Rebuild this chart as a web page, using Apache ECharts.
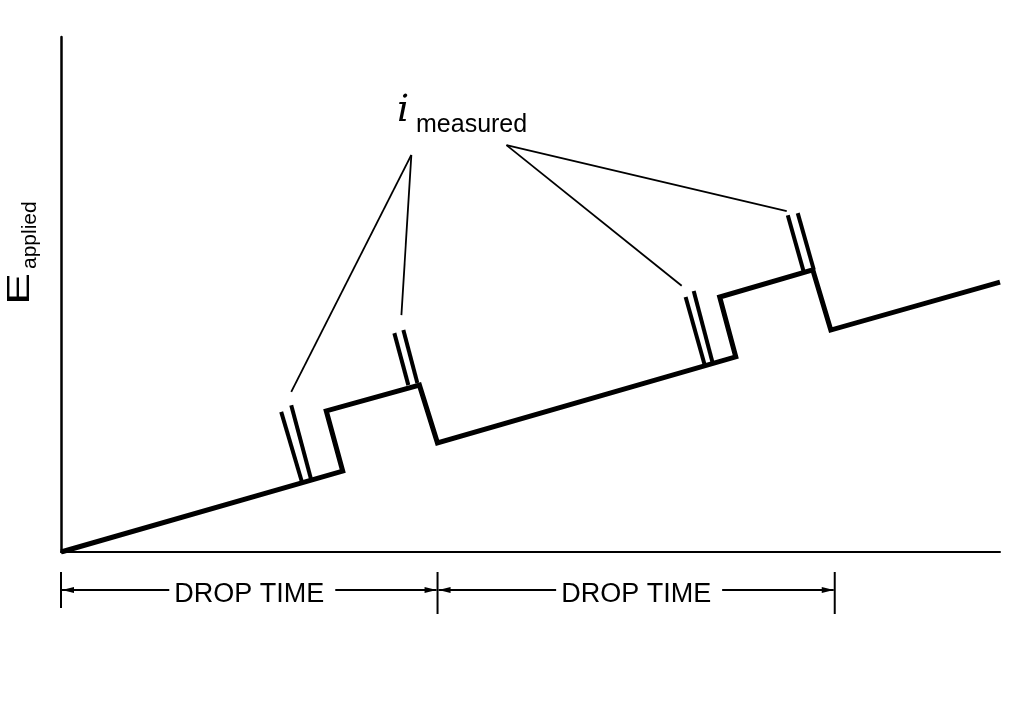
<!DOCTYPE html>
<html>
<head>
<meta charset="utf-8">
<script src="https://cdn.jsdelivr.net/npm/echarts@6/dist/echarts.min.js"></script>
<style>
  html, body { margin: 0; padding: 0; background: #fff; }
  #main { width: 1025px; height: 720px; }
</style>
</head>
<body>
<div id="main"></div>
<script>
// staircase applied potential, time 0..100 vs E 0..100 (arbitrary units)
var waveT = [0, 30.0, 28.25, 38.17, 40.09, 71.86, 70.15, 80.06, 81.98, 100];
var waveE = [0, 15.7, 27.4, 32.4, 21.2, 37.9, 49.5, 54.8, 43.1, 52.4];

// double strokes where the current is sampled: [t0, E0, t1, E1]
var marks = [
  [23.45, 27.2, 25.69, 13.4],
  [24.52, 28.5, 26.65, 14.0],
  [35.50, 42.5, 36.99, 32.4],
  [36.46, 43.1, 37.95, 32.8],
  [66.52, 49.5, 68.55, 36.3],
  [67.38, 50.7, 69.40, 36.7],
  [77.40, 65.4, 79.10, 54.4],
  [78.46, 65.8, 80.17, 54.8]
];

// leader lines from the "i measured" label
var leaders = [
  [37.31, 77.1, 24.52, 31.1],
  [37.31, 77.1, 36.25, 46.0],
  [47.44, 79.0, 66.10, 51.7],
  [47.44, 79.0, 77.29, 66.2]
];

// drop boundaries along the time axis
var dropTimes = [0, 40.1, 82.4];
var dropLabel = 'DROP TIME';

var chart = echarts.init(document.getElementById('main'));

var series = [{
  type: 'line',
  data: waveT.map(function (t, i) { return [t, waveE[i]]; }),
  symbol: 'none',
  lineStyle: { color: '#000', width: 5, join: 'miter', cap: 'butt' },
  z: 3
}];
marks.forEach(function (m) {
  series.push({
    type: 'line', symbol: 'none',
    data: [[m[0], m[1]], [m[2], m[3]]],
    lineStyle: { color: '#000', width: 4, cap: 'butt' },
    z: 2
  });
});
leaders.forEach(function (l) {
  series.push({
    type: 'line', symbol: 'none',
    data: [[l[0], l[1]], [l[2], l[3]]],
    lineStyle: { color: '#000', width: 1.8 },
    z: 2
  });
});

chart.setOption({
  animation: false,
  backgroundColor: '#fff',
  grid: { left: 61, right: 25, top: 37, bottom: 168 },
  xAxis: {
    type: 'value', min: 0, max: 100,
    axisLine: { lineStyle: { color: '#000', width: 2 } },
    axisTick: { show: false }, axisLabel: { show: false }, splitLine: { show: false }
  },
  yAxis: {
    type: 'value', min: 0, max: 100,
    axisLine: { show: true, lineStyle: { color: '#000', width: 2.5 } },
    axisTick: { show: false }, axisLabel: { show: false }, splitLine: { show: false }
  },
  series: series
});

// annotation below the axis, positioned from the x scale
var px = dropTimes.map(function (t) { return chart.convertToPixel({ xAxisIndex: 0 }, t); });
var y0 = chart.convertToPixel({ yAxisIndex: 0 }, 0);
var ay = y0 + 38;
var els = [];
var blk = { stroke: '#000', lineWidth: 2 };

px.forEach(function (x, i) {
  els.push({ type: 'line', shape: { x1: x, y1: y0 + 20, x2: x, y2: y0 + (i === 0 ? 56 : 62) }, style: blk });
});

function arrow(tipX, dir) {
  // dir = -1 points left, +1 points right
  return {
    type: 'polygon',
    shape: { points: [[tipX, ay], [tipX - dir * 12, ay - 3], [tipX - dir * 12, ay + 3]] },
    style: { fill: '#000' }
  };
}

for (var i = 0; i < px.length - 1; i++) {
  var a = px[i] + 1, b = px[i + 1] - 1, mid = (a + b) / 2;
  els.push({ type: 'line', shape: { x1: a, y1: ay, x2: mid - 80, y2: ay }, style: blk });
  els.push({ type: 'line', shape: { x1: mid + 86, y1: ay, x2: b, y2: ay }, style: blk });
  els.push(arrow(a, -1));
  els.push(arrow(b, 1));
  els.push({
    type: 'text', x: mid, y: ay + 5,
    style: { text: dropLabel, font: '27px "Liberation Sans"', fill: '#000', textAlign: 'center', textVerticalAlign: 'middle' }
  });
}

// label for the sampled current
els.push({
  type: 'text', x: 397, y: 111,
  style: { text: 'i', font: 'italic 38px "DejaVu Serif"', fill: '#000', textAlign: 'left', textVerticalAlign: 'middle' }
});
els.push({
  type: 'text', x: 416, y: 125,
  style: { text: 'measured', font: '25px "Liberation Sans"', fill: '#000', textAlign: 'left', textVerticalAlign: 'middle' }
});

// rotated y axis title
els.push({
  type: 'text', x: 20, y: 305, rotation: Math.PI / 2, scaleX: 1.5,
  style: { text: 'E', font: '32px "Liberation Sans"', fill: '#000', textAlign: 'left', textVerticalAlign: 'middle' }
});
els.push({
  type: 'text', x: 30, y: 269, rotation: Math.PI / 2,
  style: { text: 'applied', font: '21px "Liberation Sans"', fill: '#000', textAlign: 'left', textVerticalAlign: 'middle' }
});

chart.setOption({ graphic: { elements: els } });
</script>
</body>
</html>
